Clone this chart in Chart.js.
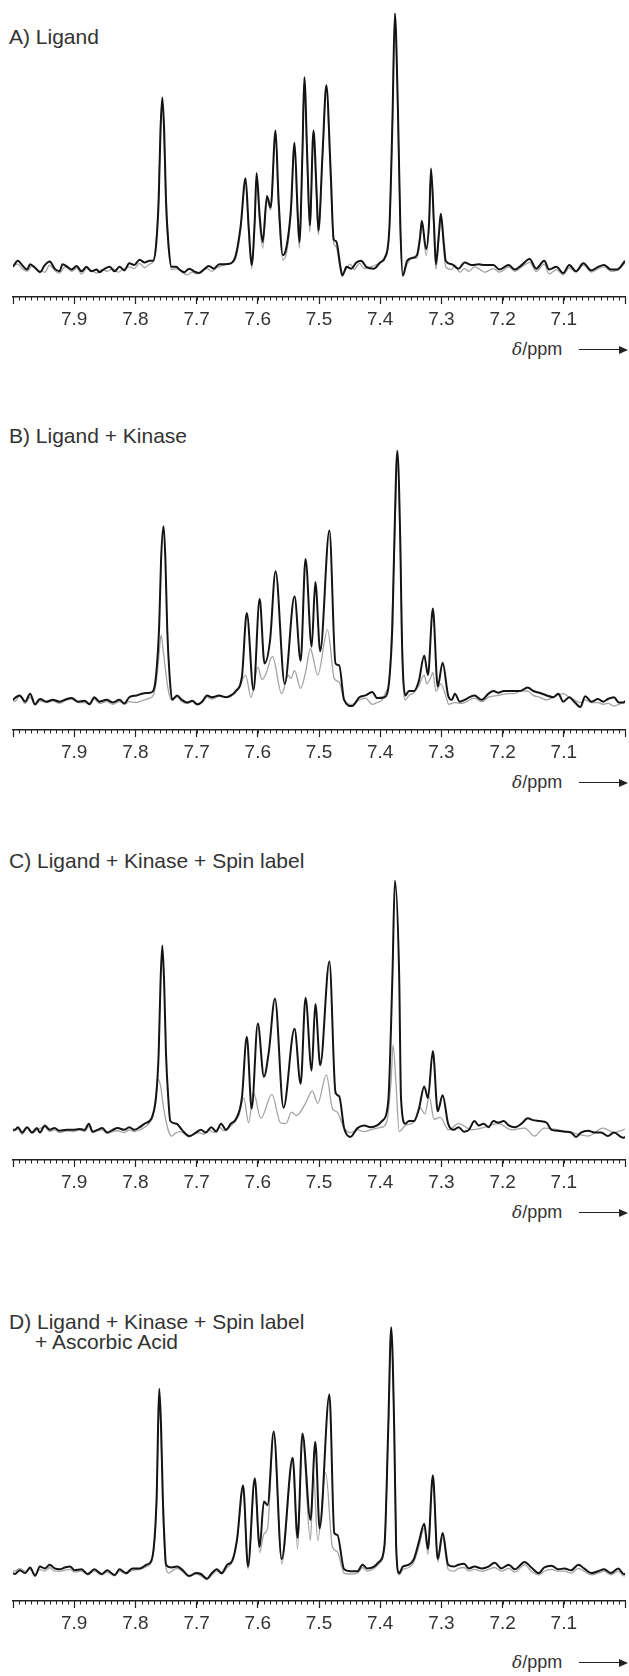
<!DOCTYPE html>
<html>
<head>
<meta charset="utf-8">
<script src="https://cdn.jsdelivr.net/npm/chart.js@4.4.1/dist/chart.umd.min.js"></script>
<style>
  body { margin: 0; background: #fff; }
  #page { position: relative; width: 629px; height: 1676px; overflow: hidden; font-family: "Liberation Sans", Arial, sans-serif; }
  .title { position: absolute; left: 9px; font-size: 21px; line-height: 22px; color: #333; white-space: nowrap; }
  .panel { position: absolute; left: 0; width: 629px; }
  .unit { position: absolute; left: 512px; font-size: 18px; line-height: 22px; color: #333; }
  .unit i { font-family: "DejaVu Serif", serif; font-size: 17px; }
  .arrow { position: absolute; left: 579px; width: 41px; height: 1.3px; background: #222; }
  .head { position: absolute; left: 619px; width: 0; height: 0; border-left: 9px solid #222; border-top: 4px solid transparent; border-bottom: 4px solid transparent; }
</style>
</head>
<body>
<div id="page"></div>
<script>
// panel titles
const titles = [
  'A) Ligand',
  'B) Ligand + Kinase',
  'C) Ligand + Kinase + Spin label',
  'D) Ligand + Kinase + Spin label<br><span style="padding-left:26px">+ Ascorbic Acid</span>'
];
const tickLabels = [7.9, 7.8, 7.7, 7.6, 7.5, 7.4, 7.3, 7.2, 7.1];
const minorStep = 0.01;

const specA_black = [[8.000,0],[7.992,7],[7.985,2],[7.977,-3],[7.972,3],[7.964,-1],[7.956,-6],[7.948,2],[7.940,6],[7.932,-2],[7.924,-5],[7.919,3],[7.911,0],[7.904,-3],[7.896,1],[7.888,-5],[7.880,0],[7.872,-5],[7.863,-3],[7.859,-6],[7.850,-2],[7.842,0],[7.834,-5],[7.826,0],[7.818,-4],[7.810,4],[7.802,2],[7.793,8],[7.785,5],[7.777,7],[7.771,7],
  [7.766,26],[7.762,75],[7.759,154],[7.756,191],[7.753,154],[7.750,75],[7.746,26],[7.741,0],
  [7.733,0],[7.728,-3],[7.720,-6],[7.712,-2],[7.704,-5],[7.696,-7],[7.688,-3],[7.680,1],[7.672,-2],[7.663,3],[7.655,3],[7.644,4],
  [7.636,13],[7.628,46],[7.620,100],[7.615,46],[7.610,2],[7.605,52],[7.602,106],[7.597,58],[7.592,28],[7.585,80],[7.579,67],[7.571,154],[7.566,75],[7.559,13],[7.553,23],[7.546,64],[7.540,140],[7.535,64],[7.532,28],[7.527,131],[7.524,214],[7.519,120],[7.515,47],[7.509,154],[7.504,86],[7.501,41],[7.494,131],[7.488,205],[7.481,109],[7.476,31],[7.472,29],[7.465,0],[7.462,-10],
  [7.455,0],[7.447,-2],[7.439,5],[7.431,7],[7.423,0],[7.410,-2],[7.400,5],[7.392,11],[7.385,44],[7.380,165],[7.376,286],[7.371,176],[7.367,44],[7.363,-10],
  [7.356,7],[7.348,10],[7.340,13],[7.335,33],[7.332,52],[7.325,20],[7.320,52],[7.317,111],[7.312,46],[7.309,3],[7.304,38],[7.301,60],[7.296,26],[7.293,7],
  [7.283,3],[7.272,-2],[7.262,5],[7.250,2],[7.239,3],[7.229,2],[7.215,2],[7.205,-3],[7.190,2],[7.180,-3],[7.169,2],[7.156,9],[7.145,-2],[7.132,7],[7.124,-3],[7.112,0],[7.101,-7],[7.091,2],[7.080,-5],[7.068,4],[7.055,-4],[7.044,0],[7.034,2],[7.023,-3],[7.013,-3],[7.003,4],[7.000,7]];

const specA_grey = [[8.000,2],[7.992,3],[7.985,-2],[7.977,-5],[7.969,1],[7.961,-3],[7.948,-6],[7.940,2],[7.932,-4],[7.924,-7],[7.915,0],[7.904,-5],[7.896,-1],[7.888,-8],[7.880,-2],[7.872,-4],[7.863,-7],[7.855,-3],[7.846,-5],[7.837,-2],[7.829,-6],[7.818,-2],[7.810,0],[7.802,-2],[7.793,4],[7.785,-1],[7.777,3],[7.771,6],
  [7.766,29],[7.762,80],[7.759,154],[7.756,188],[7.753,142],[7.750,64],[7.746,20],[7.741,-3],
  [7.733,-2],[7.724,-6],[7.715,-9],[7.707,-6],[7.699,-8],[7.691,-4],[7.683,-2],[7.675,-5],[7.667,-1],[7.659,1],[7.650,3],[7.644,4],
  [7.636,10],[7.628,42],[7.620,97],[7.615,39],[7.610,-2],[7.605,49],[7.602,103],[7.597,49],[7.592,21],[7.585,75],[7.579,64],[7.571,152],[7.566,64],[7.559,8],[7.553,16],[7.546,58],[7.540,137],[7.535,52],[7.532,21],[7.527,126],[7.524,210],[7.519,109],[7.515,39],[7.509,148],[7.504,75],[7.501,36],[7.494,126],[7.488,201],[7.481,97],[7.476,27],[7.472,23],[7.465,-3],[7.462,-8],
  [7.455,-2],[7.449,3],[7.442,-3],[7.434,4],[7.426,-2],[7.416,0],[7.405,3],[7.400,5],[7.392,10],[7.385,42],[7.380,163],[7.376,283],[7.371,171],[7.367,39],[7.363,-8],
  [7.356,3],[7.348,10],[7.340,10],[7.335,29],[7.332,49],[7.325,13],[7.320,49],[7.317,106],[7.312,39],[7.309,-3],[7.304,33],[7.301,55],[7.296,18],[7.293,0],
  [7.283,-3],[7.278,2],[7.270,-6],[7.262,-2],[7.255,-5],[7.246,0],[7.239,-2],[7.229,-6],[7.215,-2],[7.205,-6],[7.190,0],[7.180,-5],[7.169,0],[7.156,5],[7.145,-5],[7.132,3],[7.124,-8],[7.112,-3],[7.101,-9],[7.091,-1],[7.080,-6],[7.068,2],[7.055,-6],[7.044,-2],[7.034,0],[7.023,-5],[7.013,-4],[7.003,2],[7.000,5]];

const specB_black = [[8.000,0],[7.997,2],[7.989,5],[7.980,-2],[7.972,7],[7.964,-5],[7.956,1],[7.945,-2],[7.935,0],[7.924,-2],[7.912,1],[7.904,2],[7.894,-2],[7.883,-1],[7.875,-5],[7.867,3],[7.859,-2],[7.847,0],[7.837,-3],[7.826,0],[7.818,-4],[7.810,3],[7.798,5],[7.789,7],[7.777,8],[7.771,10],
  [7.766,29],[7.761,86],[7.758,159],[7.754,196],[7.751,159],[7.748,80],[7.744,26],[7.740,0],
  [7.732,5],[7.724,0],[7.715,-3],[7.707,-1],[7.699,-5],[7.691,-2],[7.683,5],[7.675,3],[7.663,5],[7.652,3],[7.644,5],[7.636,10],[7.626,26],
  [7.618,98],[7.607,11],[7.597,114],[7.589,41],[7.580,67],[7.571,145],[7.556,18],[7.540,117],[7.530,44],[7.522,159],[7.512,60],[7.506,133],[7.498,55],[7.483,191],[7.473,41],[7.467,39],[7.459,0],
  [7.446,-7],[7.434,3],[7.424,5],[7.413,9],[7.405,2],[7.393,3],[7.385,24],[7.380,86],[7.377,176],[7.372,281],[7.367,173],[7.365,86],[7.363,34],[7.359,5],
  [7.353,10],[7.345,10],[7.337,21],[7.328,50],[7.322,28],[7.314,103],[7.306,15],[7.298,42],[7.289,5],
  [7.283,0],[7.278,7],[7.270,-2],[7.262,0],[7.254,3],[7.246,5],[7.234,0],[7.223,7],[7.215,10],[7.207,8],[7.198,10],[7.190,10],[7.180,10],[7.172,10],[7.159,14],[7.150,10],[7.140,8],[7.128,5],[7.117,3],[7.109,7],[7.101,-2],[7.091,3],[7.083,-2],[7.073,-8],[7.065,4],[7.055,-2],[7.044,1],[7.036,-2],[7.028,1],[7.018,3],[7.010,-3],[7.002,-3],[7.000,-1]];

const specB_grey = [[8.000,0],[7.997,-2],[7.989,4],[7.980,-4],[7.972,3],[7.964,-6],[7.956,-1],[7.945,-3],[7.935,-1],[7.924,-4],[7.912,0],[7.904,1],[7.894,-3],[7.883,-3],[7.875,-4],[7.867,1],[7.859,-4],[7.847,-2],[7.837,-5],[7.826,-2],[7.818,-5],[7.810,-2],[7.798,-3],[7.789,-1],[7.777,2],
  [7.771,5],[7.766,20],[7.762,46],[7.758,73],[7.754,52],[7.750,29],[7.746,10],[7.741,0],
  [7.732,3],[7.724,-2],[7.715,-4],[7.707,-2],[7.699,-6],[7.691,-3],[7.683,3],[7.675,1],[7.663,4],[7.652,3],[7.644,4],[7.636,8],[7.631,13],
  [7.620,28],[7.611,3],[7.600,37],[7.593,23],[7.587,29],[7.576,49],[7.561,7],[7.550,28],[7.546,24],[7.540,33],[7.530,13],[7.522,31],[7.514,58],[7.511,52],[7.502,28],[7.486,79],[7.475,24],[7.467,20],[7.459,0],
  [7.446,-5],[7.434,0],[7.424,2],[7.413,-5],[7.405,-3],[7.397,0],[7.390,10],[7.385,23],[7.377,165],[7.372,267],[7.367,165],[7.363,29],[7.359,0],
  [7.353,5],[7.345,8],[7.337,16],[7.328,28],[7.324,18],[7.317,26],[7.314,31],[7.309,10],[7.301,18],[7.293,5],[7.288,-5],
  [7.278,-3],[7.270,-4],[7.262,-3],[7.246,2],[7.234,-2],[7.223,3],[7.207,5],[7.190,7],[7.180,7],[7.172,10],[7.159,10],[7.150,5],[7.140,3],[7.128,0],[7.117,3],[7.101,7],[7.091,3],[7.083,0],[7.073,-3],[7.065,0],[7.055,-3],[7.044,-3],[7.036,-5],[7.028,-4],[7.018,-7],[7.010,-5],[7.002,-3],[7.000,-3]];

const specC_black = [[8.000,0],[7.997,0],[7.992,3],[7.985,-3],[7.977,3],[7.969,-3],[7.961,2],[7.956,-3],[7.948,5],[7.940,0],[7.932,2],[7.924,-1],[7.912,0],[7.902,0],[7.891,1],[7.883,0],[7.876,7],[7.870,-2],[7.862,0],[7.854,2],[7.846,-3],[7.837,0],[7.829,2],[7.818,0],[7.810,3],[7.802,0],[7.793,3],[7.785,7],[7.777,10],
  [7.772,16],[7.766,39],[7.762,86],[7.759,165],[7.756,208],[7.753,165],[7.750,86],[7.746,33],[7.743,10],
  [7.733,7],[7.724,0],[7.712,-7],[7.701,-3],[7.693,0],[7.685,-3],[7.676,3],[7.668,-2],[7.660,7],[7.652,0],[7.644,7],[7.636,12],[7.626,36],
  [7.618,105],[7.610,24],[7.600,120],[7.590,60],[7.582,88],[7.572,148],[7.558,25],[7.540,114],[7.530,52],[7.522,149],[7.512,67],[7.506,142],[7.498,73],[7.483,190],[7.473,42],[7.467,38],[7.459,2],
  [7.449,-8],[7.437,2],[7.426,5],[7.416,3],[7.405,5],[7.397,10],[7.387,31],[7.380,174],[7.376,281],[7.369,174],[7.366,36],[7.359,7],
  [7.353,10],[7.345,10],[7.337,23],[7.328,49],[7.322,36],[7.314,89],[7.306,21],[7.298,39],[7.289,7],
  [7.280,0],[7.272,3],[7.263,-2],[7.255,0],[7.246,10],[7.239,5],[7.231,7],[7.223,3],[7.215,10],[7.207,8],[7.198,10],[7.190,5],[7.180,3],[7.169,7],[7.159,13],[7.150,11],[7.140,10],[7.128,8],[7.120,0],[7.109,-1],[7.099,-2],[7.088,-3],[7.080,-8],[7.072,-3],[7.060,-1],[7.050,-3],[7.039,-3],[7.028,-7],[7.018,-3],[7.003,-9],[7.000,-8]];

const specC_grey = [[8.000,-2],[7.992,1],[7.985,-5],[7.977,2],[7.969,-4],[7.961,0],[7.948,3],[7.940,-2],[7.932,0],[7.924,-3],[7.912,-1],[7.902,-2],[7.891,0],[7.883,-2],[7.876,4],[7.870,-3],[7.862,-1],[7.854,0],[7.846,-4],[7.837,-2],[7.829,-1],[7.818,-3],[7.810,0],[7.802,-2],[7.793,0],[7.785,3],[7.777,8],[7.771,16],
  [7.766,42],[7.763,57],[7.759,50],[7.755,30],[7.750,10],[7.745,-3],[7.741,-7],
  [7.735,-4],[7.728,-2],[7.720,-4],[7.712,-8],[7.704,-5],[7.696,-3],[7.688,-5],[7.680,0],[7.672,-3],[7.663,3],[7.655,-1],[7.647,3],[7.639,8],[7.631,16],
  [7.623,36],[7.615,8],[7.607,42],[7.595,13],[7.577,40],[7.563,8],[7.554,7],[7.545,20],[7.537,16],[7.522,30],[7.511,44],[7.502,30],[7.488,62],[7.478,24],[7.470,20],[7.459,2],
  [7.449,-3],[7.437,0],[7.426,-2],[7.416,0],[7.405,2],[7.397,3],[7.389,10],[7.382,58],[7.379,96],[7.374,50],[7.369,-2],[7.359,5],
  [7.343,10],[7.335,25],[7.327,18],[7.320,38],[7.312,12],[7.302,14],[7.288,0],
  [7.272,7],[7.250,0],[7.229,3],[7.207,7],[7.185,0],[7.164,2],[7.148,-7],[7.132,2],[7.109,0],[7.088,-3],[7.060,-7],[7.036,2],[7.018,-3],[7.003,0],[7.000,1]];

const specD_black = [[8.000,-2],[7.997,-3],[7.989,1],[7.980,-2],[7.972,4],[7.964,-5],[7.956,5],[7.948,3],[7.940,7],[7.932,3],[7.924,2],[7.915,4],[7.907,5],[7.899,1],[7.888,2],[7.878,-3],[7.867,2],[7.855,-3],[7.846,1],[7.834,-4],[7.826,2],[7.815,-2],[7.805,3],[7.793,3],[7.782,7],[7.774,11],
  [7.769,33],[7.765,86],[7.763,154],[7.761,196],[7.758,154],[7.755,75],[7.752,26],[7.750,7],
  [7.741,4],[7.732,5],[7.724,2],[7.712,-5],[7.701,-2],[7.693,-3],[7.683,-8],[7.675,-2],[7.667,2],[7.659,-2],[7.650,7],[7.642,11],[7.634,34],
  [7.624,92],[7.616,5],[7.605,100],[7.597,26],[7.590,75],[7.584,71],[7.574,150],[7.561,13],[7.543,122],[7.535,36],[7.527,148],[7.514,55],[7.506,139],[7.499,46],[7.483,190],[7.475,41],[7.470,39],[7.459,2],
  [7.449,0],[7.437,0],[7.429,7],[7.421,3],[7.410,5],[7.402,10],[7.393,28],[7.387,150],[7.382,262],[7.377,150],[7.374,28],[7.369,-2],
  [7.363,5],[7.353,7],[7.345,13],[7.337,31],[7.328,51],[7.322,24],[7.314,103],[7.306,13],[7.298,41],[7.289,7],
  [7.280,5],[7.272,7],[7.263,8],[7.255,3],[7.246,5],[7.234,3],[7.223,5],[7.213,9],[7.202,3],[7.190,7],[7.180,2],[7.164,10],[7.153,4],[7.141,-2],[7.132,4],[7.120,6],[7.109,2],[7.099,3],[7.088,1],[7.076,7],[7.067,3],[7.055,-2],[7.044,0],[7.034,2],[7.023,-2],[7.011,3],[7.002,-3],[7.000,-3]];

const specD_grey = [[8.000,0],[7.997,0],[7.989,3],[7.980,0],[7.972,2],[7.964,-3],[7.956,2],[7.948,0],[7.940,4],[7.932,0],[7.924,0],[7.915,1],[7.907,2],[7.899,-1],[7.888,0],[7.878,-4],[7.867,0],[7.855,-4],[7.846,-1],[7.834,-5],[7.826,0],[7.815,-3],[7.805,1],[7.793,2],[7.782,5],[7.774,10],
  [7.769,29],[7.765,80],[7.763,148],[7.761,188],[7.758,142],[7.755,64],[7.752,20],[7.750,3],
  [7.745,-2],[7.741,0],[7.732,3],[7.724,0],[7.712,-6],[7.701,-3],[7.693,-5],[7.683,-9],[7.675,-4],[7.667,0],[7.659,-3],[7.650,4],[7.642,10],[7.634,31],
  [7.624,88],[7.616,2],[7.605,95],[7.597,20],[7.590,40],[7.584,46],[7.574,148],[7.561,8],[7.543,118],[7.535,24],[7.527,142],[7.514,33],[7.509,105],[7.502,33],[7.489,106],[7.478,26],[7.470,21],[7.459,-2],
  [7.449,-3],[7.437,-2],[7.429,4],[7.421,0],[7.410,3],[7.402,8],[7.393,26],[7.387,147],[7.382,260],[7.377,147],[7.374,26],[7.369,-4],
  [7.363,2],[7.353,4],[7.345,10],[7.337,26],[7.328,46],[7.322,18],[7.314,100],[7.306,10],[7.298,36],[7.289,2],
  [7.280,0],[7.272,3],[7.263,4],[7.255,0],[7.246,2],[7.234,0],[7.223,2],[7.213,4],[7.202,0],[7.190,3],[7.180,-1],[7.164,7],[7.153,0],[7.141,-4],[7.132,0],[7.120,2],[7.109,0],[7.099,0],[7.088,-2],[7.076,3],[7.067,0],[7.055,-4],[7.044,-2],[7.034,0],[7.023,-4],[7.011,0],[7.002,-5],[7.000,-5]];

// layout of the four stacked spectra (pixel positions of axis, title, unit label)
const panels = [
  { black: specA_black, grey: specA_grey, axisY: 297,  h: 296, yMin: -34, titleY: 26,   unitY: 338 },
  { black: specB_black, grey: specB_grey, axisY: 730,  h: 296, yMin: -34, titleY: 425,  unitY: 771 },
  { black: specC_black, grey: specC_grey, axisY: 1160, h: 296, yMin: -34, titleY: 850,  unitY: 1201 },
  { black: specD_black, grey: specD_grey, axisY: 1601, h: 309, yMin: -32, titleY: 1312, unitY: 1651 }
];
const yMax = 300;
const axisHeight = 34;

Chart.defaults.font.family = '"Liberation Sans", Arial, sans-serif';
Chart.defaults.color = '#333';

// small ticks every 0.01 ppm along the bottom axis
const minorTicks = {
  id: 'minorTicks',
  afterDraw(chart) {
    const s = chart.scales.x;
    const c = chart.ctx;
    c.save();
    c.strokeStyle = '#222';
    c.lineWidth = 1;
    for (let v = s.min; v <= s.max + 1e-9; v += minorStep) {
      const px = Math.round(s.getPixelForValue(v)) + 0.5;
      c.beginPath();
      c.moveTo(px, s.top);
      c.lineTo(px, s.top + 3.5);
      c.stroke();
    }
    c.restore();
  }
};

const page = document.getElementById('page');

panels.forEach((p, i) => {
  const t = document.createElement('div');
  t.className = 'title';
  t.style.top = p.titleY + 'px';
  if (i === 3) t.style.lineHeight = '20px';
  t.innerHTML = titles[i];
  page.appendChild(t);

  const box = document.createElement('div');
  box.className = 'panel';
  box.style.top = (p.axisY - p.h) + 'px';
  const cv = document.createElement('canvas');
  cv.width = 629;
  cv.height = p.h + axisHeight;
  box.appendChild(cv);
  page.appendChild(box);

  const u = document.createElement('div');
  u.className = 'unit';
  u.style.top = p.unitY + 'px';
  u.innerHTML = '<i>&delta;</i>/ppm';
  page.appendChild(u);
  const a = document.createElement('div');
  a.className = 'arrow';
  a.style.top = (p.unitY + 11) + 'px';
  page.appendChild(a);
  const hd = document.createElement('div');
  hd.className = 'head';
  hd.style.top = (p.unitY + 7.5) + 'px';
  page.appendChild(hd);

  new Chart(cv, {
    type: 'line',
    data: {
      datasets: [
        {
          data: p.black.map(d => ({ x: d[0], y: d[1] })),
          borderColor: '#141414',
          borderWidth: 2,
          pointRadius: 0,
          cubicInterpolationMode: 'monotone',
          order: 0
        },
        {
          data: p.grey.map(d => ({ x: d[0], y: d[1] })),
          borderColor: '#a3a3a3',
          borderWidth: 1.3,
          pointRadius: 0,
          cubicInterpolationMode: 'monotone',
          order: 1
        }
      ]
    },
    options: {
      responsive: false,
      animation: false,
      devicePixelRatio: 1,
      layout: { padding: { left: 13, right: 1, top: 0, bottom: 0 } },
      scales: {
        x: {
          type: 'linear',
          reverse: true,
          min: 7.0,
          max: 8.0,
          afterFit: (scale) => { scale.height = axisHeight; },
          border: { display: true, color: '#222', width: 1.5 },
          grid: { drawOnChartArea: false, drawTicks: true, tickLength: 7, color: '#222', tickWidth: 1.2 },
          ticks: {
            stepSize: 0.1,
            autoSkip: false,
            maxRotation: 0,
            padding: 4,
            font: { size: 19 },
            color: '#333',
            callback: (v) => {
              const hit = tickLabels.find(t => Math.abs(t - v) < 1e-6);
              return hit === undefined ? '' : hit.toFixed(1);
            }
          }
        },
        y: { display: false, min: p.yMin, max: yMax }
      },
      plugins: { legend: { display: false }, tooltip: { enabled: false } }
    },
    plugins: [minorTicks]
  });
});
</script>
</body>
</html>
